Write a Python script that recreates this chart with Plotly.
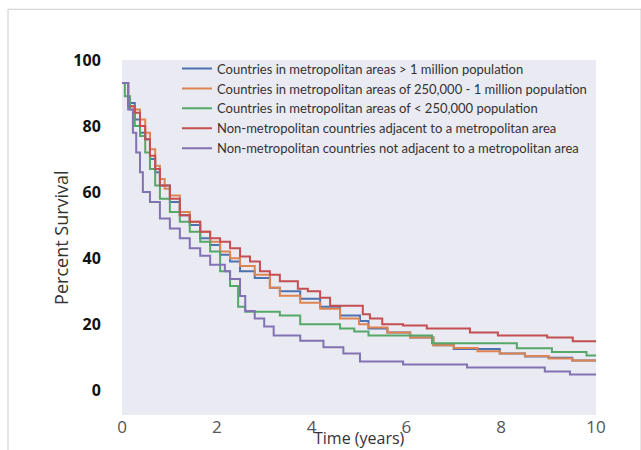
import plotly.graph_objects as go

# ---- data ----
names = [
    "Countries in metropolitan areas > 1 million population",
    "Countries in metropolitan areas of 250,000 - 1 million population",
    "Countries in metropolitan areas of < 250,000 population",
    "Non-metropolitan countries adjacent to a metropolitan area",
    "Non-metropolitan countries not adjacent to a metropolitan area",
]
colors = ["#4C72B0", "#DD8452", "#55A868", "#C44E52", "#8172B3"]

t_blue = [0, 0.13, 0.27, 0.38, 0.49, 0.59, 0.7, 0.8, 1.01, 1.22, 1.43, 1.65, 1.86, 2.07, 2.28, 2.49,
          2.8, 3.12, 3.33, 3.76, 4.18, 4.6, 5.02, 5.2, 5.6, 6.08, 6.57, 7.0, 7.97, 8.5, 9.0, 9.5, 10]
s_blue = [93, 87, 82, 78, 76, 70, 66, 62, 57, 53, 50, 46, 44, 41, 39, 36,
          34, 31, 30, 27.7, 25.3, 22.6, 21, 18.7, 17.5, 16, 13.6, 12.5, 11.1, 10.2, 9.8, 9.0, 8.7]

t_orange = [0, 0.13, 0.27, 0.38, 0.49, 0.59, 0.7, 0.8, 0.9, 1.01, 1.22, 1.43, 1.65, 1.86, 2.07, 2.28,
            2.49, 2.8, 3.12, 3.33, 3.76, 4.18, 4.6, 5.0, 5.2, 5.6, 6.08, 6.57, 7.0, 7.5, 7.97, 8.5,
            9.0, 9.5, 10]
s_orange = [93, 86, 85, 82, 78, 73, 68, 64, 61, 59, 54, 51, 48, 45, 42, 40,
            37.6, 35, 31, 28.6, 26.5, 24.7, 21.7, 20, 19, 17.5, 16, 13.6, 12.8, 11.8, 11.1, 10.4,
            9.6, 9.0, 8.7]

t_green = [0, 0.06, 0.17, 0.27, 0.38, 0.49, 0.59, 0.7, 0.8, 1.01, 1.22, 1.43, 1.65, 1.86, 2.07, 2.28,
           2.45, 2.6, 3.33, 3.76, 4.6, 4.9, 5.2, 6.54, 8.33, 9.07, 9.8, 10]
s_green = [93, 89, 85, 80, 77, 72, 67, 62, 58, 54, 51, 48, 45, 42, 36, 31.6,
           25.3, 23.8, 22.6, 20, 18.7, 17.8, 16.6, 14.2, 12.7, 11.6, 10.5, 10.5]

t_red = [0, 0.13, 0.27, 0.38, 0.49, 0.59, 0.7, 0.8, 1.01, 1.22, 1.43, 1.65, 1.86, 2.07, 2.28, 2.49,
         2.7, 2.91, 3.12, 3.33, 3.71, 3.92, 4.18, 4.39, 5.08, 5.23, 5.49, 5.93, 6.43, 7.34, 7.93,
         8.97, 9.51, 10]
s_red = [93, 86, 84, 80, 76, 71, 67, 62, 58, 53, 51, 48, 46, 45, 43, 40.5,
         39, 36, 35, 33, 30.7, 30, 28, 25.6, 23, 21.7, 20, 19.6, 18.7, 17.5, 16.6,
         16, 14.8, 14.8]

t_purple = [0, 0.13, 0.23, 0.3, 0.38, 0.44, 0.59, 0.8, 1.01, 1.22, 1.43, 1.65, 1.86, 2.17, 2.28, 2.49,
            2.6, 2.8, 3.0, 3.2, 3.76, 4.25, 4.67, 5.02, 5.93, 7.28, 8.92, 9.45, 10]
s_purple = [93, 85, 78, 72, 66, 60, 57, 52, 49, 46, 43, 40.7, 38, 36, 33.7, 28.5,
            24, 21.7, 19.3, 16.6, 15, 13, 11.1, 8.7, 7.8, 6.9, 5.7, 4.8, 4.8]

series_t = [t_blue, t_orange, t_green, t_red, t_purple]
series_s = [s_blue, s_orange, s_green, s_red, s_purple]

x_ticks = [0, 2, 4, 6, 8, 10]
y_ticks = [0, 20, 40, 60, 80, 100]

fig = go.Figure()
for name, col, tt, ss in zip(names, colors, series_t, series_s):
    fig.add_trace(go.Scatter(x=tt, y=ss, mode="lines", name=name,
                             line=dict(color=col, width=2, shape="hv")))

fig.update_layout(
    width=641, height=450,
    margin=dict(l=122, r=45, t=60, b=33),
    paper_bgcolor="white",
    plot_bgcolor="#EAEAF2",
    showlegend=True,
    legend=dict(x=0.116, y=1.018, xanchor="left", yanchor="top",
                bgcolor="rgba(0,0,0,0)",
                font=dict(family="Lato, Noto Sans, sans-serif", size=13, color="#333333"),
                tracegroupgap=0),
    xaxis=dict(range=[0, 10], tickvals=x_ticks, showgrid=False, zeroline=False,
               showline=False, ticks="",
               tickfont=dict(family="Open Sans, sans-serif", size=17, color="#555555")),
    yaxis=dict(range=[-7.5, 100], tickvals=y_ticks, showgrid=False, zeroline=False,
               showline=False, ticks="outside", ticklen=17, tickcolor="rgba(0,0,0,0)",
               tickfont=dict(family="Open Sans, sans-serif", size=16, color="#111111",
                             weight="bold")),
    annotations=[
        dict(text="Time (years)", xref="paper", yref="paper", x=0.5, y=-0.064,
             xanchor="center", yanchor="middle", showarrow=False,
             font=dict(family="Open Sans, sans-serif", size=16, color="#333333")),
        dict(text="Percent Survival", xref="paper", yref="paper", x=-0.13, y=0.5,
             xanchor="center", yanchor="middle", showarrow=False, textangle=-90,
             font=dict(family="Open Sans, sans-serif", size=18, color="#333333")),
    ],
    shapes=[
        dict(type="rect", xref="paper", yref="paper",
             x0=-0.2405, x1=1.095, y0=-0.1, y1=1.143,
             line=dict(color="#CCCCCC", width=1), fillcolor="rgba(0,0,0,0)", layer="below"),
    ],
)

fig.write_html("out.html")
